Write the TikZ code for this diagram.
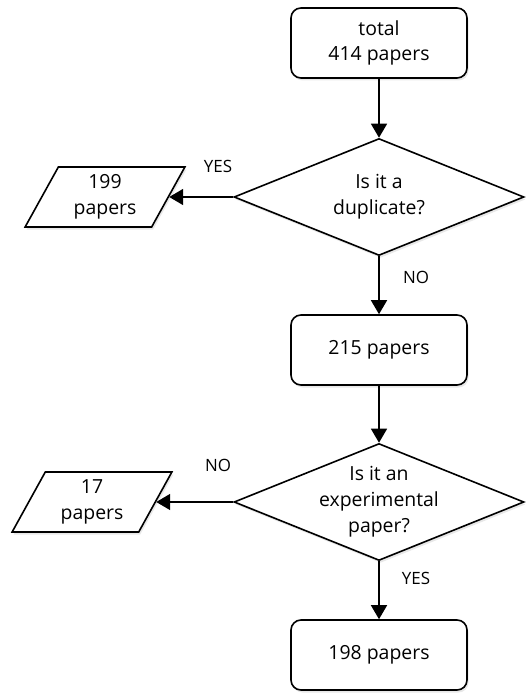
\documentclass[tikz,border=0pt]{standalone}
\usepackage{fontspec}
\setmainfont{Open Sans}
\usetikzlibrary{shapes.geometric,arrows.meta,shadows}
\begin{document}
\begin{tikzpicture}[x=1bp,y=-1bp,
  line width=1.6bp,
  procbox/.style={draw, rounded corners=10bp, minimum width=176bp, minimum height=70bp,
    inner sep=0pt, align=center, font=\fontsize{19.5}{26}\selectfont,
    drop shadow={shadow xshift=1.5bp, shadow yshift=-2.5bp, opacity=0.18}, fill=white},
  decbox/.style={draw, diamond, minimum width=290bp, minimum height=117bp, inner sep=0pt,
    fill=white, drop shadow={shadow xshift=1.5bp, shadow yshift=-2.5bp, opacity=0.18}},
  dectext/.style={align=center, font=\fontsize{19.5}{26}\selectfont, inner sep=0pt},
  iobox/.style={draw, trapezium, trapezium left angle=63.4, trapezium right angle=116.6,
    trapezium stretches=true, minimum width=160bp, minimum height=60bp, inner sep=0pt,
    align=center, font=\fontsize{19.5}{26}\selectfont, fill=white,
    drop shadow={shadow xshift=1.5bp, shadow yshift=-2.5bp, opacity=0.18}},
  lbl/.style={font=\fontsize{17}{20}\selectfont, inner sep=0pt},
  conn/.style={-{Triangle[width=16bp,length=14bp]}}
]
\useasboundingbox (0,0) rectangle (531,694);

\node[procbox] (b1) at (379,43) {total\\414 papers};
\node[decbox] (d1) at (379,197) {};
\node[dectext] (t1) at (d1.center) {Is it a\\duplicate?};
\node[iobox] (p1) at (105,197) {199\\papers};
\node[procbox] (b2) at (379,350) {215 papers};
\node[decbox] (d2) at (379,502) {};
\node[dectext] (t2) at (d2.center) {Is it an\\experimental\\paper?};
\node[iobox] (p2) at (92,502) {17\\papers};
\node[procbox] (b3) at (379,655) {198 papers};

\node[lbl] (y1) at (218,166) {YES};
\node[lbl] (n1) at (416,277) {NO};
\node[lbl] (n2) at (218,465) {NO};
\node[lbl] (y2) at (416,578) {YES};

\draw[conn] (b1.south) -- (d1.north);
\draw[conn] (d1.west) -- (p1.east);
\draw[conn] (d1.south) -- (b2.north);
\draw[conn] (b2.south) -- (d2.north);
\draw[conn] (d2.west) -- (p2.east);
\draw[conn] (d2.south) -- (b3.north);
\end{tikzpicture}
\end{document}
